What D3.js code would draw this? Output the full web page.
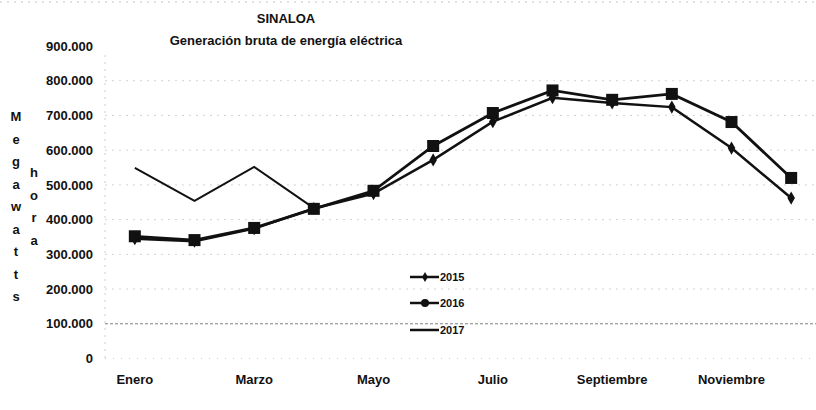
<!DOCTYPE html>
<html><head><meta charset="utf-8">
<script src="https://cdn.jsdelivr.net/npm/d3@7"></script>
<style>
body{margin:0;background:#fff;}
svg text{font-family:"Liberation Sans",Arial,sans-serif;font-weight:bold;fill:#111;}
</style></head>
<body><svg id="c" width="816" height="410"></svg>
<script>
const months = ["Enero","Febrero","Marzo","Abril","Mayo","Junio","Julio","Agosto","Septiembre","Octubre","Noviembre","Diciembre"];
const shownMonths = ["Enero","Marzo","Mayo","Julio","Septiembre","Noviembre"];
const v2015 = [345000,338000,374000,432000,475000,572000,682000,751000,736000,724000,606000,462000];
const v2016 = [352000,341000,376000,431000,483000,612000,707000,772000,745000,762000,681000,520000];
const v2017 = [549000,454000,552000,433000];
const yTicks = [0,100000,200000,300000,400000,500000,600000,700000,800000,900000];
const yLetters1 = ["M","e","g","a","w","a","t","t","s"];
const yLetters2 = ["h","o","r","a"];

const svg = d3.select("#c");
const x = d3.scaleBand().domain(months).range([105,821]);
const y = d3.scaleLinear().domain([0,900000]).range([358.5,46]);
const cx = m => x(m) + x.bandwidth()/2;

// top scan border
svg.append("line").attr("x1",0).attr("x2",816).attr("y1",2).attr("y2",2)
  .attr("stroke","#c4c4c4").attr("stroke-dasharray","2,5");

// grid
svg.append("g").selectAll("line").data(yTicks.filter(d=>d>0 && d<900000)).join("line")
  .attr("x1",105).attr("x2",816).attr("y1",d=>y(d)).attr("y2",d=>y(d))
  .attr("stroke",d=>d===100000?"#808080":"#d2d2d2").attr("stroke-width",1)
  .attr("stroke-dasharray",d=>d===100000?"3,2":"2,5");
svg.append("line").attr("x1",105).attr("x2",816).attr("y1",y(0)).attr("y2",y(0))
  .attr("stroke","#d0d0d0").attr("stroke-dasharray","1,7");
svg.append("line").attr("x1",105).attr("x2",105).attr("y1",55).attr("y2",y(0))
  .attr("stroke","#cfcfcf").attr("stroke-dasharray","2,5");

// y axis labels
const yAxis = d3.axisLeft(y).tickValues(yTicks).tickSize(0).tickPadding(0)
  .tickFormat(d => d===0 ? "0" : (d/1000) + ".000");
const ga = svg.append("g").attr("transform","translate(93,0)").call(yAxis);
ga.select(".domain").remove();
ga.selectAll("text").attr("font-size","13px").attr("font-family","'Liberation Sans',Arial,sans-serif").attr("font-weight","bold").attr("fill","#111");

// x axis labels
const xAxis = d3.axisBottom(x).tickValues(shownMonths).tickSize(0).tickPadding(0);
const gx = svg.append("g").attr("transform","translate(0,375)").call(xAxis);
gx.select(".domain").remove();
gx.selectAll("text").attr("font-size","13px").attr("font-family","'Liberation Sans',Arial,sans-serif").attr("font-weight","bold").attr("fill","#111");

// titles
svg.append("text").attr("x",286).attr("y",23).attr("text-anchor","middle").attr("font-size","13px").text("SINALOA");
svg.append("text").attr("x",286).attr("y",45).attr("text-anchor","middle").attr("font-size","13px").text("Generación bruta de energía eléctrica");

// y title letters
svg.append("g").selectAll("text").data(yLetters1).join("text")
  .attr("x",16).attr("y",(d,i)=>121+i*22.5).attr("text-anchor","middle").attr("font-size","13px").text(d=>d);
svg.append("g").selectAll("text").data(yLetters2).join("text")
  .attr("x",34).attr("y",(d,i)=>177+i*22.5).attr("text-anchor","middle").attr("font-size","13px").text(d=>d);

// lines
const line = d3.line().x((d,i)=>cx(months[i])).y(d=>y(d));
svg.append("path").datum(v2017).attr("d",line).attr("fill","none").attr("stroke","#111").attr("stroke-width",2);
svg.append("path").datum(v2015).attr("d",line).attr("fill","none").attr("stroke","#111").attr("stroke-width",2.5);
svg.append("path").datum(v2016).attr("d",line).attr("fill","none").attr("stroke","#111").attr("stroke-width",2.8);

const diamond = d3.symbol().type(d3.symbolDiamond).size(50);
svg.append("g").selectAll("path").data(v2015).join("path")
  .attr("transform",(d,i)=>`translate(${cx(months[i])},${y(d)})`).attr("d",diamond).attr("fill","#111");
svg.append("g").selectAll("rect").data(v2016).join("rect")
  .attr("x",(d,i)=>cx(months[i])-6).attr("y",d=>y(d)-6).attr("width",12).attr("height",12).attr("fill","#111");

// legend
const leg = [{k:"2015",t:"d",yy:277},{k:"2016",t:"s",yy:303},{k:"2017",t:"n",yy:330}];
const lg = svg.append("g");
leg.forEach(l=>{
  lg.append("line").attr("x1",410).attr("x2",439).attr("y1",l.yy).attr("y2",l.yy).attr("stroke","#111").attr("stroke-width",2.5);
  if(l.t==="d") lg.append("path").attr("transform",`translate(425,${l.yy})`).attr("d",d3.symbol().type(d3.symbolDiamond).size(30)).attr("fill","#111");
  if(l.t==="s") lg.append("circle").attr("cx",425).attr("cy",l.yy).attr("r",4).attr("fill","#111");
  lg.append("text").attr("x",440).attr("y",l.yy+4).attr("font-size","11px").text(l.k);
});
</script></body></html>
